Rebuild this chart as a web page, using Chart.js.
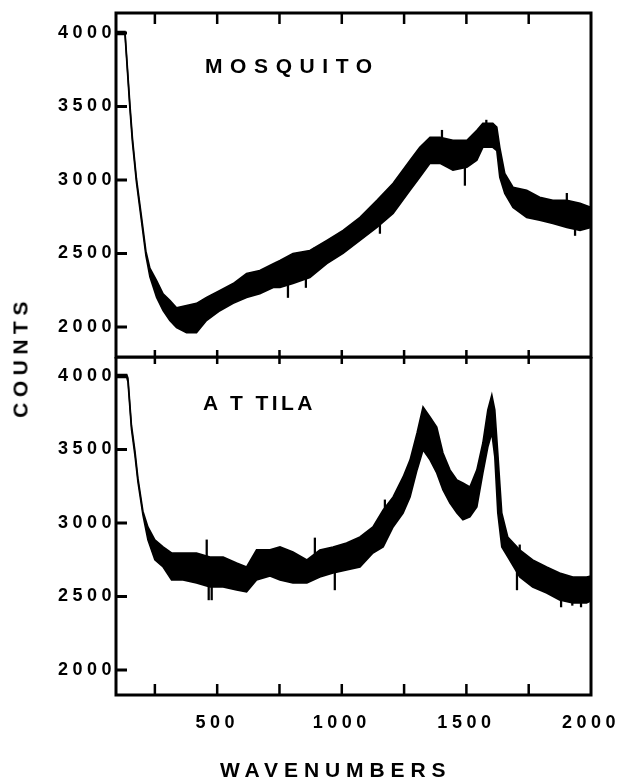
<!DOCTYPE html>
<html><head><meta charset="utf-8">
<script src="https://cdn.jsdelivr.net/npm/chart.js@4/dist/chart.umd.min.js"></script>
<style>
html,body{margin:0;padding:0;background:#fff;}
#wrap{position:relative;width:624px;height:780px;overflow:hidden;background:#fff;}
canvas{position:absolute;left:0;}
.t{position:absolute;font-family:"Liberation Sans",Arial,sans-serif;font-weight:bold;font-size:21px;line-height:21px;color:#000;white-space:nowrap;}
</style></head><body>
<div id="wrap">
<canvas id="c1" width="624" height="372" style="top:0"></canvas>
<canvas id="c2" width="624" height="423" style="top:357px"></canvas>
<div class="t" style="left:205px;top:55px;letter-spacing:7.6px;">MOSQUITO</div>
<div class="t" style="left:203px;top:392px;letter-spacing:3.4px;">A T TILA</div>
<div class="t" style="left:220px;top:759px;letter-spacing:5.9px;">WAVENUMBERS</div>
<div class="t" style="left:19.5px;top:357px;letter-spacing:5.5px;transform:translate(-50%,-50%) rotate(-90deg);">COUNTS</div>
</div>
<script>
// ---- data ----
const xTickLabels = [500, 1000, 1500, 2000];
const xMinorTicks = [250, 500, 750, 1000, 1250, 1500, 1750];
const yTickLabels = [2000, 2500, 3000, 3500, 4000];

const mosquitoX = [94, 100, 130, 150, 160, 176, 197, 214, 230, 257, 283, 310, 337, 377, 417, 457, 511, 564, 618, 671, 725, 752, 804, 872, 940, 1005, 1073, 1141, 1206, 1274, 1313, 1354, 1394, 1446, 1502, 1542, 1566, 1606, 1622, 1634, 1654, 1687, 1742, 1794, 1847, 1903, 1956, 2000];
const mosquitoUpper = [4010, 4010, 4010, 3510, 3285, 3010, 2740, 2515, 2400, 2315, 2225, 2180, 2130, 2145, 2160, 2200, 2247, 2295, 2363, 2384, 2430, 2452, 2500, 2520, 2588, 2656, 2745, 2861, 2977, 3134, 3222, 3290, 3290, 3270, 3270, 3338, 3386, 3386, 3359, 3222, 3045, 2950, 2930, 2882, 2861, 2861, 2841, 2813];
const mosquitoLower = [3990, 3990, 3990, 3480, 3255, 2985, 2710, 2485, 2340, 2200, 2110, 2043, 1995, 1960, 1960, 2043, 2110, 2160, 2200, 2225, 2268, 2268, 2295, 2336, 2430, 2500, 2588, 2677, 2772, 2930, 3018, 3113, 3113, 3066, 3086, 3134, 3222, 3222, 3200, 3018, 2909, 2813, 2745, 2725, 2704, 2677, 2657, 2677];
// isolated noise spikes visible beyond the band: wavenumber, low, high
const mosquitoSpikeX = [784, 856, 892, 1153, 1402, 1494, 1580, 1903, 1936];
const mosquitoSpikeLow = [2200, 2268, 2380, 2636, 3200, 2963, 3250, 2760, 2622];
const mosquitoSpikeHigh = [2400, 2420, 2541, 2800, 3338, 3150, 3407, 2909, 2760];

const attilaX = [94, 100, 137, 142, 156, 170, 182, 202, 222, 250, 283, 317, 363, 417, 471, 524, 578, 618, 658, 712, 752, 804, 860, 912, 965, 1019, 1073, 1125, 1166, 1206, 1246, 1274, 1302, 1326, 1354, 1381, 1406, 1434, 1462, 1486, 1514, 1542, 1566, 1586, 1602, 1614, 1626, 1642, 1666, 1714, 1766, 1822, 1874, 1927, 1982, 2000];
const attilaUpper = [4010, 4010, 4010, 3985, 3665, 3490, 3305, 3080, 2973, 2885, 2837, 2796, 2796, 2796, 2769, 2769, 2728, 2701, 2817, 2817, 2837, 2803, 2749, 2817, 2837, 2864, 2905, 2973, 3089, 3177, 3313, 3429, 3612, 3789, 3721, 3653, 3476, 3361, 3293, 3272, 3245, 3361, 3544, 3769, 3871, 3769, 3476, 3068, 2905, 2817, 2749, 2701, 2660, 2633, 2633, 2640];
const attilaLower = [3990, 3990, 3990, 3960, 3640, 3460, 3280, 3055, 2885, 2749, 2701, 2613, 2613, 2592, 2565, 2565, 2545, 2531, 2613, 2640, 2613, 2592, 2592, 2633, 2660, 2681, 2701, 2796, 2837, 2973, 3068, 3177, 3361, 3497, 3429, 3340, 3225, 3136, 3068, 3021, 3041, 3109, 3340, 3517, 3612, 3449, 3068, 2837, 2769, 2633, 2565, 2524, 2477, 2456, 2456, 2470];
const attilaSpikeX = [458, 466, 478, 892, 972, 1173, 1703, 1714, 1880, 1925, 1960];
const attilaSpikeLow = [2650, 2477, 2477, 2650, 2545, 2900, 2545, 2650, 2429, 2440, 2429];
const attilaSpikeHigh = [2885, 2700, 2700, 2898, 2750, 3157, 2720, 2851, 2600, 2600, 2600];

const X_MIN = 94, X_MAX = 2000;
const FONT = {family: '"Liberation Sans", Arial, sans-serif', size: 18, weight: 'bold'};

function pts(xs, ys) { return xs.map((x, i) => ({x: x, y: ys[i]})); }

function bandDatasets(xs, up, lo, sx, slo, shi) {
  return [
    {type: 'line', data: pts(xs, up), borderColor: '#000', borderWidth: 1.6, pointRadius: 0, fill: false, tension: 0},
    {type: 'line', data: pts(xs, lo), borderColor: '#000', borderWidth: 1.6, pointRadius: 0, fill: '-1', backgroundColor: '#000', tension: 0},
    {type: 'bar', data: sx.map((x, i) => ({x: x, y: [slo[i], shi[i]]})), backgroundColor: '#000', barThickness: 1.6, borderWidth: 0}
  ];
}

function framePlugin(topMode, bottomMode) {
  return {
    id: 'frame',
    beforeDraw(chart) { chart.ctx.letterSpacing = '4.5px'; },
    afterDraw(chart) {
      const ctx = chart.ctx, a = chart.chartArea, sx = chart.scales.x, sy = chart.scales.y;
      ctx.save();
      ctx.letterSpacing = '0px';
      ctx.strokeStyle = '#000';
      ctx.lineWidth = 3;
      ctx.strokeRect(a.left, a.top, a.right - a.left, a.bottom - a.top);
      ctx.beginPath();
      yTickLabels.forEach(v => {
        const y = sy.getPixelForValue(v);
        ctx.moveTo(a.left, y); ctx.lineTo(a.left + 11, y);
      });
      ctx.stroke();
      ctx.lineWidth = 2.5;
      ctx.beginPath();
      xMinorTicks.forEach(v => {
        const x = sx.getPixelForValue(v);
        if (topMode === 'in') { ctx.moveTo(x, a.top); ctx.lineTo(x, a.top + 11); }
        if (bottomMode === 'cross') { ctx.moveTo(x, a.bottom - 7); ctx.lineTo(x, a.bottom + 7); }
        if (bottomMode === 'in') { ctx.moveTo(x, a.bottom); ctx.lineTo(x, a.bottom - 11); }
      });
      ctx.stroke();
      ctx.restore();
    }
  };
}

function yScale(min, max) {
  return {
    type: 'linear', min: min, max: max,
    afterBuildTicks: s => { s.ticks = yTickLabels.map(v => ({value: v})); },
    afterFit: s => { s.width = 116; s.paddingTop = 0; s.paddingBottom = 0; },
    grid: {display: false, drawTicks: false},
    border: {display: false},
    ticks: {font: FONT, color: '#000', padding: 0, callback: v => String(v)}
  };
}

Chart.defaults.animation = false;

new Chart(document.getElementById('c1'), {
  type: 'line',
  data: {datasets: bandDatasets(mosquitoX, mosquitoUpper, mosquitoLower, mosquitoSpikeX, mosquitoSpikeLow, mosquitoSpikeHigh)},
  options: {
    responsive: false, devicePixelRatio: 1, animation: false,
    layout: {padding: {left: 0, right: 33, top: 13, bottom: 15}},
    plugins: {legend: {display: false}, tooltip: {enabled: false}},
    scales: {
      x: {type: 'linear', min: X_MIN, max: X_MAX, offset: false,
          afterFit: s => { s.height = 0; s.paddingLeft = 0; s.paddingRight = 0; },
          grid: {display: false, drawTicks: false, offset: false}, border: {display: false},
          ticks: {display: false}},
      y: yScale(1795, 4136)
    }
  },
  plugins: [framePlugin('in', 'cross')]
});

new Chart(document.getElementById('c2'), {
  type: 'line',
  data: {datasets: bandDatasets(attilaX, attilaUpper, attilaLower, attilaSpikeX, attilaSpikeLow, attilaSpikeHigh)},
  options: {
    responsive: false, devicePixelRatio: 1, animation: false,
    layout: {padding: {left: 0, right: 33, top: 0, bottom: 0}},
    plugins: {legend: {display: false}, tooltip: {enabled: false}},
    scales: {
      x: {type: 'linear', min: X_MIN, max: X_MAX, offset: false,
          afterBuildTicks: s => { s.ticks = xTickLabels.map(v => ({value: v})); },
          afterFit: s => { s.height = 85; s.paddingLeft = 0; s.paddingRight = 0; },
          grid: {display: false, drawTicks: false, offset: false}, border: {display: false},
          ticks: {font: FONT, color: '#000', padding: 17, autoSkip: false, maxRotation: 0, callback: v => String(v)}},
      y: yScale(1830, 4129)
    }
  },
  plugins: [framePlugin('none', 'in')]
});
</script>
</body></html>
